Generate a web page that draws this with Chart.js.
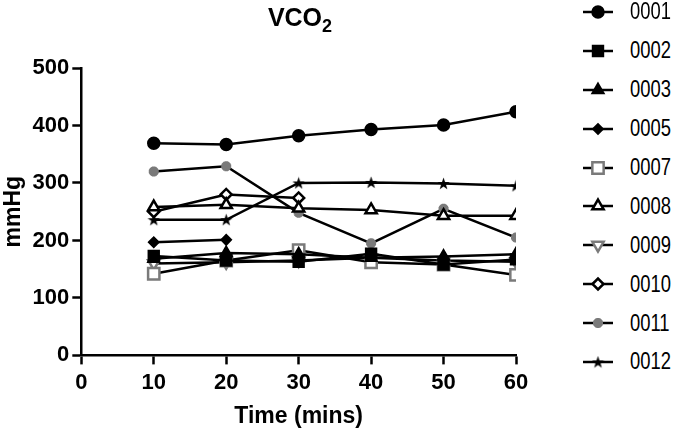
<!DOCTYPE html>
<html>
<head>
<meta charset="utf-8">
<script src="https://cdn.jsdelivr.net/npm/chart.js@4.4.1/dist/chart.umd.min.js"></script>
<style>
  body { margin: 0; background: #fff; font-family: "Liberation Sans", Arial, sans-serif; }
  #wrap { position: relative; width: 685px; height: 435px; overflow: hidden; }
  #chartBox { position: absolute; left: 0; top: 0; width: 545px; height: 435px; }
  #title { position: absolute; left: 200px; width: 200px; top: 3px; text-align: center; font-weight: bold; font-size: 25px; }
  #title sub { font-size: 18px; }
  #legend { position: absolute; left: 580px; top: -7.5px; }
  .row { display: flex; align-items: center; height: 38.9px; font-size: 23px; }
  .row canvas { margin-right: 14px; }
  .row span { display: inline-block; transform: scaleX(0.8); transform-origin: left center; }
</style>
</head>
<body>
<div id="wrap">
  <div id="chartBox"><canvas id="vco2Chart"></canvas></div>
  <div id="title">VCO<sub>2</sub></div>
  <div id="legend"></div>
</div>
<script>
const times = [10, 20, 30, 40, 50, 60];
const yTicks = [0, 100, 200, 300, 400, 500];

const s0001 = [369, 367, 382, 393, 401, 424];
const s0002 = [173, 165, 163, 177, 158, 167];
const s0003 = [168, 178, 176, 170, 172, 176];
const s0005 = [197, 201, null, null, null, null];
const s0007 = [142, 165, 183, 162, 158, 140];
const s0009 = [160, 162, 165, 170, 165, 163];
const s0008 = [258, 262, 256, 253, 243, 243];
const s0010 = [250, 280, 274, null, null, null];
const s0011 = [320, 329, 248, 195, 255, 205];
const s0012 = [236, 236, 300, 301, 299, 295];

// small filled five-point star used for 0012
function starImage(size) {
    const c = document.createElement("canvas");
    c.width = size; c.height = size;
    const g = c.getContext("2d");
    const cx = size / 2, cy = size / 2 + 0.5, R = size / 2, r = R * 0.4;
    g.beginPath();
    for (let i = 0; i < 10; i++) {
        const rad = i % 2 === 0 ? R : r;
        const a = -Math.PI / 2 + i * Math.PI / 5;
        g.lineTo(cx + rad * Math.cos(a), cy + rad * Math.sin(a));
    }
    g.closePath();
    g.fillStyle = "#000";
    g.fill();
    return c;
}
const star = starImage(13);

const black = "#000";
const grey = "#7a7a7a";

const series = [
    { label: "0001", data: s0001, style: "circle", radius: 5.5, fill: black, stroke: black },
    { label: "0002", data: s0002, style: "rect", radius: 7, fill: black, stroke: black },
    { label: "0003", data: s0003, style: "triangle", radius: 6, fill: black, stroke: black },
    { label: "0005", data: s0005, style: "rectRot", radius: 4.5, fill: black, stroke: black },
    { label: "0007", data: s0007, style: "rect", radius: 8, fill: "#fff", stroke: grey },
    { label: "0008", data: s0008, style: "triangle", radius: 6.5, fill: "#fff", stroke: black },
    { label: "0009", data: s0009, style: "triangle", radius: 6.5, fill: "#fff", stroke: grey, rotation: 180 },
    { label: "0010", data: s0010, style: "rectRot", radius: 5.5, fill: "#fff", stroke: black },
    { label: "0011", data: s0011, style: "star", radius: 5, fill: grey, stroke: grey },
    { label: "0012", data: s0012, style: star, radius: 6, fill: black, stroke: black }
];

const tickFont = { family: "Liberation Sans", size: 22, weight: "bold", lineHeight: 1.0 };
const titleFont = { family: "Liberation Sans", size: 23, weight: "bold" };

const ctx = document.getElementById("vco2Chart").getContext("2d");
const chartInstance = new Chart(ctx, {
    type: "line",
    data: {
        datasets: series.map(s => ({
            label: s.label,
            data: times.map((t, i) => ({ x: t, y: s.data[i] })),
            borderColor: black,
            borderWidth: 2.5,
            pointStyle: s.style,
            pointRadius: s.radius,
            pointRotation: s.rotation || 0,
            pointBackgroundColor: s.fill,
            pointBorderColor: s.stroke,
            pointBorderWidth: s.style === "star" ? 3.5 : 2.5,
            fill: false,
            spanGaps: false,
            tension: 0
        }))
    },
    options: {
        responsive: true,
        maintainAspectRatio: false,
        animation: false,
        layout: { padding: { left: 0, right: 29, top: 68, bottom: 1 } },
        plugins: {
            legend: { display: false },
            tooltip: { enabled: false }
        },
        scales: {
            x: {
                type: "linear",
                min: 0,
                max: 60,
                ticks: { stepSize: 10, color: black, font: tickFont, padding: 8 },
                grid: { drawOnChartArea: false, drawTicks: true, tickLength: 9, tickWidth: 2.5, tickColor: black },
                border: { color: black, width: 2.5 },
                title: { display: true, text: "Time (mins)", color: black, font: titleFont, padding: { top: 0, bottom: 4 } }
            },
            y: {
                min: 0,
                max: 500,
                afterBuildTicks: axis => { axis.ticks = yTicks.map(v => ({ value: v })); },
                ticks: { color: black, font: tickFont, padding: 3 },
                grid: { drawOnChartArea: false, drawTicks: true, tickLength: 9, tickWidth: 2.5, tickColor: black },
                border: { color: black, width: 2.5 },
                title: { display: true, text: "mmHg", color: black, font: titleFont, padding: { top: 0, bottom: 2 } }
            }
        }
    }
});

// legend: line with marker, then the label
const legendBox = document.getElementById("legend");
series.forEach(s => {
    const row = document.createElement("div");
    row.className = "row";
    const c = document.createElement("canvas");
    c.width = 36; c.height = 22;
    const g = c.getContext("2d");
    g.strokeStyle = black;
    g.lineWidth = 2.5;
    g.beginPath(); g.moveTo(3, 11); g.lineTo(33, 11); g.stroke();
    g.fillStyle = s.fill;
    g.strokeStyle = s.stroke;
    g.lineWidth = s.style === "star" ? 3.5 : 2.5;
    Chart.helpers.drawPoint(g, { pointStyle: s.style, radius: s.radius, rotation: s.rotation || 0, borderWidth: g.lineWidth }, 18, 11);
    row.appendChild(c);
    const txt = document.createElement("span");
    txt.textContent = s.label;
    row.appendChild(txt);
    legendBox.appendChild(row);
});
</script>
</body>
</html>
